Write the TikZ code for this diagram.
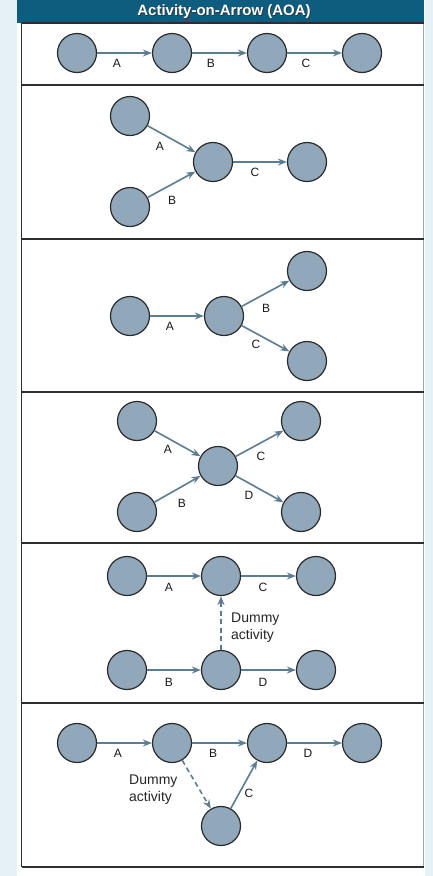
\documentclass[tikz,border=0pt]{standalone}
\usepackage{fontspec}
\setmainfont{Liberation Sans}
\usetikzlibrary{arrows.meta}
\definecolor{bgblue}{HTML}{E6F1F5}
\definecolor{hdr}{HTML}{0E5C7E}
\definecolor{cfill}{HTML}{91A7BA}
\definecolor{cline}{HTML}{2A2A2A}
\definecolor{arrc}{HTML}{5C7D91}
\definecolor{frame}{HTML}{2E2E2E}
\begin{document}
\begin{tikzpicture}[x=1pt,y=-1pt,
  ev/.style={circle, draw=cline, fill=cfill, line width=1.2pt, minimum size=39pt, inner sep=0pt},
  act/.style={draw=arrc, line width=1.6pt, -{Stealth[length=9pt,width=7pt]}},
  dum/.style={act, dash pattern=on 5pt off 3.5pt},
  lab/.style={font=\fontsize{12}{13}\selectfont, text=black!90, inner sep=0pt},
  dlab/.style={font=\fontsize{14}{17}\selectfont, text=black!85, inner sep=0pt, align=left},
  sep/.style={draw=frame, line width=1.2pt}]
\useasboundingbox (0,0) rectangle (433,876);
\fill[bgblue] (0,0) rectangle (433,876);
\fill[white] (17,0) rectangle (425,876);
\fill[hdr] (17,0) rectangle (424,23);
\node[font=\bfseries\fontsize{15}{16}\selectfont, text=black!80] (ttlsh) at (224.8,12.3) {Activity-on-Arrow (AOA)};
\node[font=\bfseries\fontsize{15}{16}\selectfont, text=white] (ttl) at (224,11.5) {Activity-on-Arrow (AOA)};
% frame
\draw[sep] (21.5,23) -- (21.5,867);
\draw[draw=gray!70, line width=1pt] (423.5,23) -- (423.5,867);
\foreach \yy in {23,85,239,392,543,703,867} \draw[sep] (21.5,\yy) -- (423.5,\yy);

% panel 1
\node[ev] (p1a) at (77,53) {};
\node[ev] (p1b) at (172,53) {};
\node[ev] (p1c) at (267,53) {};
\node[ev] (p1d) at (362,53) {};
\draw[act] (p1a) -- (p1b);
\draw[act] (p1b) -- (p1c);
\draw[act] (p1c) -- (p1d);
\node[lab] at (117,63) {A};
\node[lab] at (211,63) {B};
\node[lab] at (306,63) {C};

% panel 2
\node[ev] (p2a) at (130,116) {};
\node[ev] (p2b) at (130,207) {};
\node[ev] (p2c) at (213,162) {};
\node[ev] (p2d) at (307,162) {};
\draw[act] (p2a) -- (p2c);
\draw[act] (p2b) -- (p2c);
\draw[act] (p2c) -- (p2d);
\node[lab] at (160,146) {A};
\node[lab] at (172,200) {B};
\node[lab] at (255,172) {C};

% panel 3
\node[ev] (p3a) at (130,316) {};
\node[ev] (p3b) at (224,316) {};
\node[ev] (p3c) at (307,271) {};
\node[ev] (p3d) at (307,361) {};
\draw[act] (p3a) -- (p3b);
\draw[act] (p3b) -- (p3c);
\draw[act] (p3b) -- (p3d);
\node[lab] at (170,326) {A};
\node[lab] at (266,308) {B};
\node[lab] at (256,344) {C};

% panel 4
\node[ev] (p4a) at (137,421) {};
\node[ev] (p4b) at (137,512) {};
\node[ev] (p4m) at (218,466) {};
\node[ev] (p4c) at (301,421) {};
\node[ev] (p4d) at (301,512) {};
\draw[act] (p4a) -- (p4m);
\draw[act] (p4b) -- (p4m);
\draw[act] (p4m) -- (p4c);
\draw[act] (p4m) -- (p4d);
\node[lab] at (168,449) {A};
\node[lab] at (182,503) {B};
\node[lab] at (261,456) {C};
\node[lab] at (249,495) {D};

% panel 5
\node[ev] (p5a) at (127,576) {};
\node[ev] (p5b) at (221,576) {};
\node[ev] (p5c) at (316,576) {};
\node[ev] (p5d) at (127,670) {};
\node[ev] (p5e) at (221,670) {};
\node[ev] (p5f) at (316,670) {};
\draw[act] (p5a) -- (p5b);
\draw[act] (p5b) -- (p5c);
\draw[act] (p5d) -- (p5e);
\draw[act] (p5e) -- (p5f);
\draw[dum] (p5e) -- (p5b);
\node[lab] at (169,587) {A};
\node[lab] at (263,587) {C};
\node[lab] at (169,682) {B};
\node[lab] at (263,682) {D};
\node[dlab, anchor=west] at (231,628) {Dummy\\activity};

% panel 6
\node[ev] (p6a) at (77,743) {};
\node[ev] (p6b) at (172,743) {};
\node[ev] (p6c) at (267,743) {};
\node[ev] (p6d) at (362,743) {};
\node[ev] (p6e) at (221,826) {};
\draw[act] (p6a) -- (p6b);
\draw[act] (p6b) -- (p6c);
\draw[act] (p6c) -- (p6d);
\draw[dum] (p6b) -- (p6e);
\draw[act] (p6e) -- (p6c);
\node[lab] at (118,753) {A};
\node[lab] at (213,753) {B};
\node[lab] at (308,753) {D};
\node[lab] at (249,793) {C};
\node[dlab, anchor=west] at (129,790) {Dummy\\activity};
\end{tikzpicture}
\end{document}
